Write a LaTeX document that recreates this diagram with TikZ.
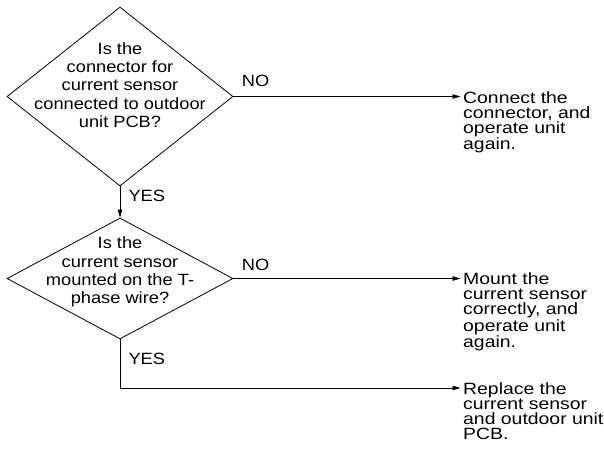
\documentclass[tikz,border=0pt]{standalone}
\usepackage{fontspec}
\setmainfont{Liberation Sans}
\newfontfamily\dfont[FakeStretch=1.12]{Liberation Sans}
\newfontfamily\rfont[FakeStretch=1.19]{Liberation Sans}
\usetikzlibrary{shapes.geometric,arrows.meta}
\begin{document}
\begin{tikzpicture}[x=1pt,y=-1pt,
  dia/.style={draw,diamond,inner sep=0pt,line width=0.8pt},
  qtext/.style={align=center,inner sep=0pt,anchor=north,font=\dfont\fontsize{16.3}{18.3}\selectfont},
  atext/.style={align=left,inner xsep=2.5pt,inner ysep=0pt,anchor=north west,font=\rfont\fontsize{16.3}{15}\selectfont},
  lbl/.style={inner sep=0pt,anchor=base west,font=\dfont\fontsize{16.3}{18}\selectfont},
  arr/.style={line width=0.8pt,-{Triangle[length=8pt,width=4.5pt]}}]
\useasboundingbox (0,0) rectangle (604,448);
% decisions
\node[dia,minimum width=226pt,minimum height=179pt] (d1) at (120,96.5) {};
\node[dia,minimum width=226pt,minimum height=121pt] (d2) at (120,278.5) {};
\node[qtext] (q1) at (120,42.3) {Is the\\connector for\\current sensor\\connected to outdoor\\unit PCB?};
\node[qtext] (q2) at (120,236.8) {Is the\\current sensor\\mounted on the T-\\phase wire?};
% actions
\node[atext] (r1) at (460.5,91.3) {Connect the\\connector, and\\operate unit\\again.};
\node[atext] (r2) at (460.5,272.8) {Mount the\\current sensor\\correctly, and\\operate unit\\again.};
\node[atext] (r3) at (460.5,382.3) {Replace the\\current sensor\\and outdoor unit\\PCB.};
\coordinate (e1) at (460.5,96.5);
\coordinate (e2) at (460.5,278.5);
\coordinate (e3) at (460.5,388);
% connectors
\draw[arr] (d1.east) -- (e1);
\draw[arr] (d1.south) -- (d2.north);
\draw[arr] (d2.east) -- (e2);
\draw[arr] (d2.south) |- (e3);
% labels
\node[lbl] (no1) at (241.7,86.7) {NO};
\node[lbl] (yes1) at (128.3,201.7) {YES};
\node[lbl] (no2) at (241.7,270.7) {NO};
\node[lbl] (yes2) at (128.3,364) {YES};
\end{tikzpicture}
\end{document}
